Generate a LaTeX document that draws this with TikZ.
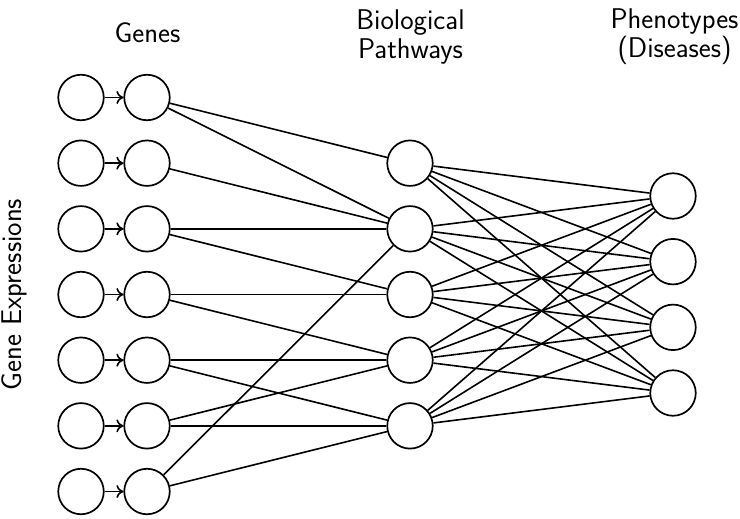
\documentclass[tikz,border=0pt]{standalone}
\usetikzlibrary{arrows.meta}
\begin{document}
\begin{tikzpicture}[x=1pt,y=-1pt,
  neuron/.style={circle,draw,line width=1.7pt,minimum size=45.5pt,inner sep=0pt},
  link/.style={line width=1.6pt},
  arr/.style={line width=1.6pt,-{To[length=7pt,width=13pt]}},
  lbl/.style={font=\sffamily\fontsize{28.5}{29}\selectfont,align=center,inner sep=0pt}]
\useasboundingbox (0,0) rectangle (740,519);
\foreach \i in {1,...,7} {
  \pgfmathsetmacro\yy{97.5+65.67*(\i-1)}
  \node[neuron] (e\i) at (81,\yy) {};
  \node[neuron] (g\i) at (147,\yy) {};
  \draw[arr] (e\i) -- (g\i);
}
\foreach \i in {1,...,5} {
  \pgfmathsetmacro\yy{163.17+65.67*(\i-1)}
  \node[neuron] (p\i) at (410,\yy) {};
}
\foreach \i in {1,...,4} {
  \pgfmathsetmacro\yy{196+65.67*(\i-1)}
  \node[neuron] (f\i) at (673,\yy) {};
}
\foreach \a/\b in {g1/p1,g1/p2,g2/p2,g3/p2,g3/p3,g4/p3,g4/p4,g5/p4,g5/p5,g6/p4,g6/p5,g7/p2,g7/p5}
  \draw[link] (\a) -- (\b);
\foreach \a in {1,...,5}
  \foreach \b in {1,...,4}
    \draw[link] (p\a) -- (f\b);
\node[lbl] (hg) at (147.5,33) {Genes};
\node[lbl] (hp) at (410.5,37) {Biological\\Pathways};
\node[lbl] (hf) at (674.5,37) {Phenotypes\\(Diseases)};
\node[lbl,rotate=90] (he) at (14.5,294.5) {Gene Expressions};
\end{tikzpicture}
\end{document}
